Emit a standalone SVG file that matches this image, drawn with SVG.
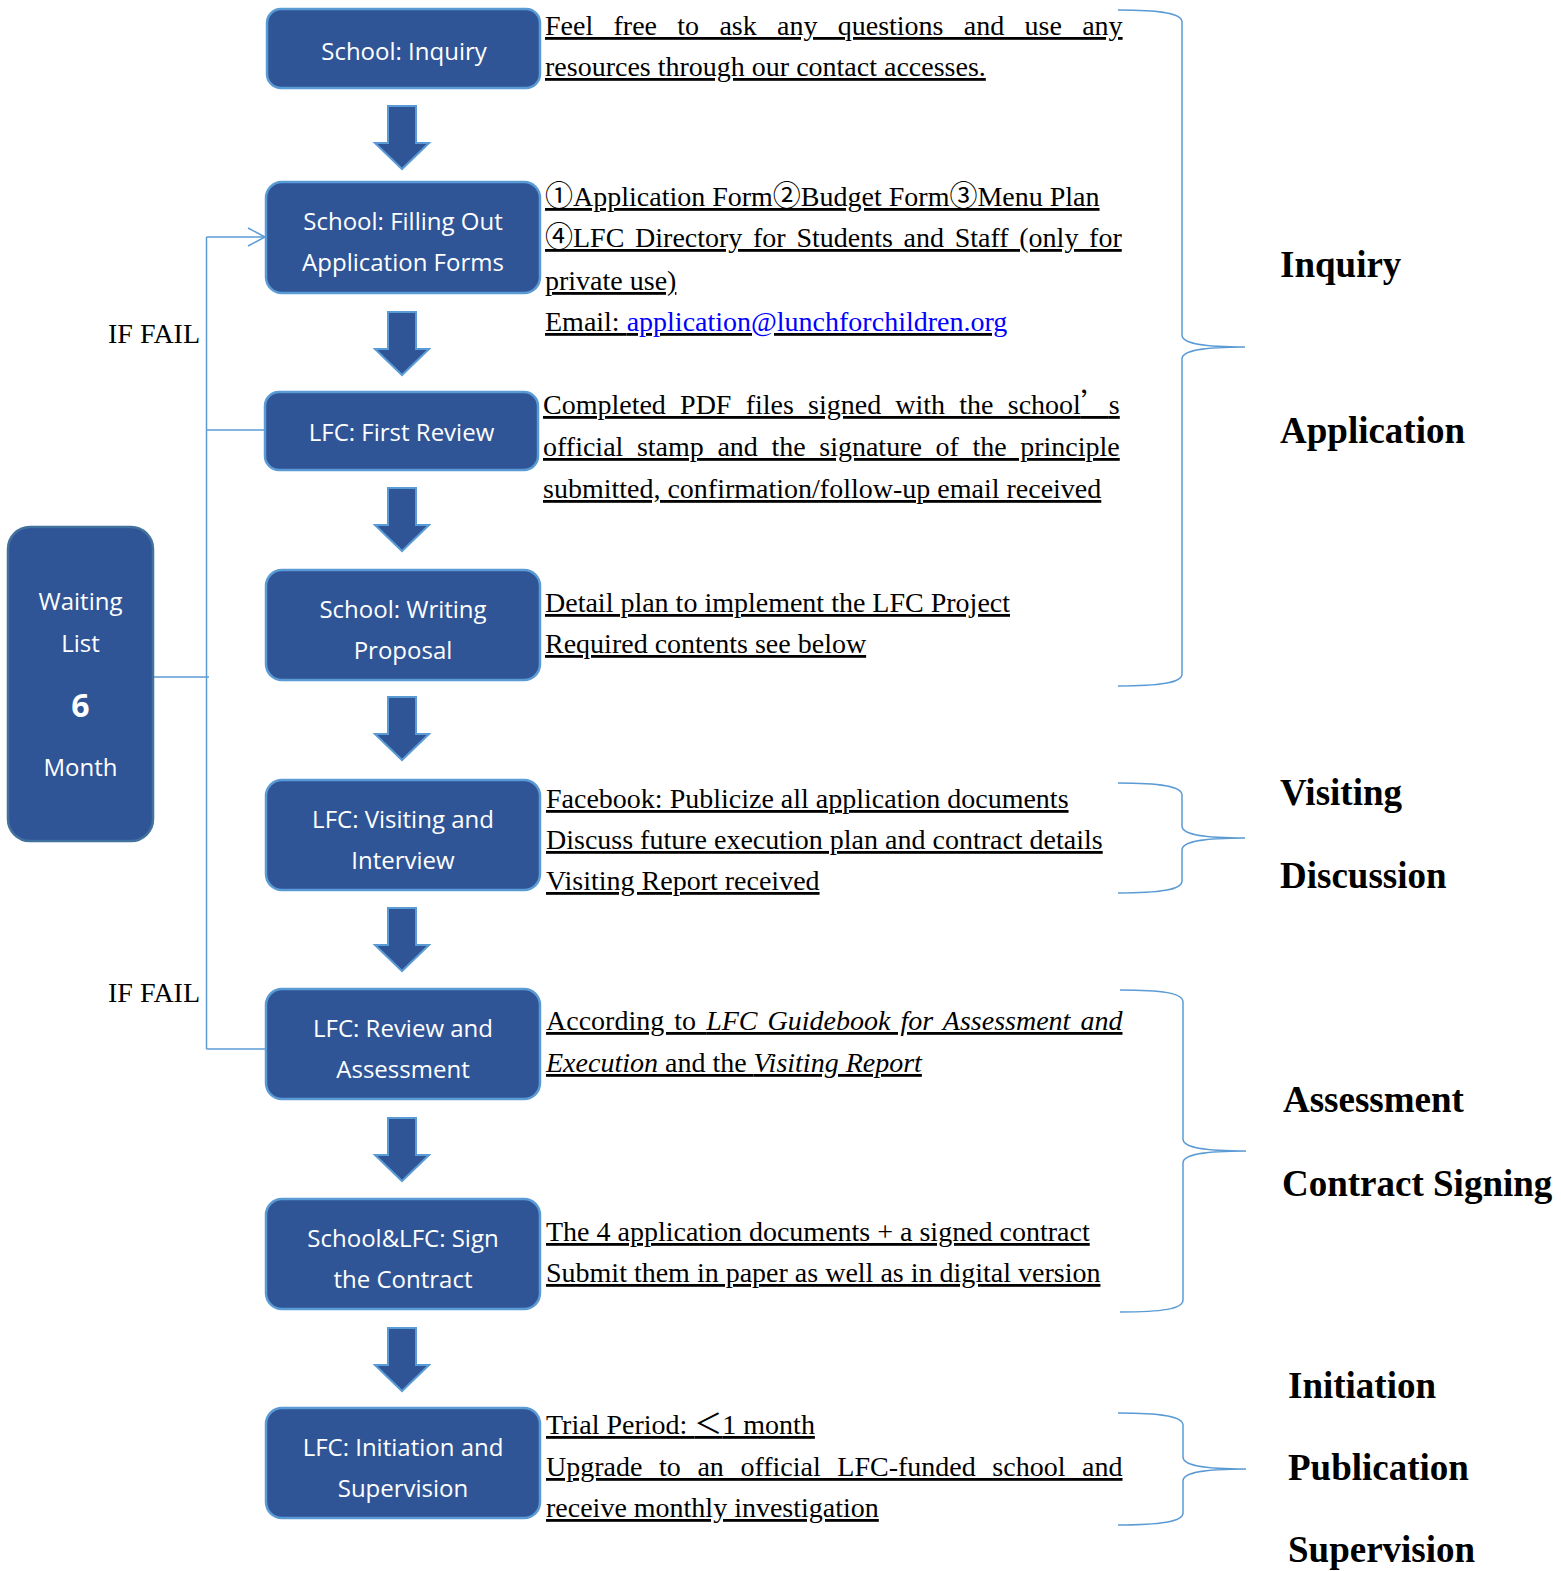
<svg xmlns="http://www.w3.org/2000/svg" width="1561" height="1571" viewBox="0 0 1561 1571">
<defs>
<style>
.box{fill:#2F5597;stroke:#5B9BD5;stroke-width:2.5}
.wl{fill:#2F5597;stroke:#41719C;stroke-width:2.5}
.bt{font-family:'Open Sans','Noto Sans',sans-serif;font-size:24px;fill:#fff;text-anchor:middle}
.big{font-size:32px;font-weight:bold}
.d{font-family:'Liberation Serif','Noto Sans CJK SC',serif;font-size:28px;fill:#000;text-decoration:underline;text-decoration-skip-ink:none}
.lab{font-family:'Liberation Serif',serif;font-weight:bold;font-size:37px;fill:#000}
.ff{font-family:'Liberation Serif',serif;font-size:28px;fill:#000}
.conn{fill:none;stroke:#5B9BD5;stroke-width:1.5}
.arr{fill:#2F5597;stroke:#5B9BD5;stroke-width:2}
.cjk{font-family:'Noto Sans CJK SC',sans-serif}
.it{font-style:italic}
</style>
<polygon id="downArrow" class="arr" points="388,0 416,0 416,37 429,37 402,63 375,37 388,37"/>
</defs>
<rect width="1561" height="1571" fill="#fff"/>

<g id="connectors">
<use href="#downArrow" y="106"/>
<use href="#downArrow" y="312"/>
<use href="#downArrow" y="488"/>
<use href="#downArrow" y="697"/>
<use href="#downArrow" y="908"/>
<use href="#downArrow" y="1118"/>
<use href="#downArrow" y="1328"/>
<path class="conn" d="M206.5,237 V1049"/>
<path class="conn" d="M206.5,237 H265"/>
<polyline class="conn" points="248,228 265,237 248,246"/>
<path class="conn" d="M206.5,430 H265"/>
<path class="conn" d="M153,677 H209"/>
<path class="conn" d="M206.5,1049 H266"/>
<text class="ff" x="108" y="343">IF FAIL</text>
<text class="ff" x="108" y="1002">IF FAIL</text>
</g>

<g id="n-inquiry">
<rect class="box" x="267" y="9" width="273" height="79" rx="14"/>
<text class="bt" x="404" y="60">School: Inquiry</text>
</g>
<g id="n-filling">
<rect class="box" x="266" y="182" width="274" height="111" rx="16"/>
<text class="bt" x="403" y="230">School: Filling Out</text>
<text class="bt" x="403" y="271">Application Forms</text>
</g>
<g id="n-first-review">
<rect class="box" x="265" y="392" width="273" height="78" rx="14"/>
<text class="bt" x="401.5" y="441">LFC: First Review</text>
</g>
<g id="n-proposal">
<rect class="box" x="266" y="570" width="274" height="110" rx="16"/>
<text class="bt" x="403" y="618">School: Writing</text>
<text class="bt" x="403" y="659">Proposal</text>
</g>
<g id="n-visiting">
<rect class="box" x="266" y="780" width="274" height="110" rx="16"/>
<text class="bt" x="403" y="828">LFC: Visiting and</text>
<text class="bt" x="403" y="869">Interview</text>
</g>
<g id="n-review">
<rect class="box" x="266" y="989" width="274" height="110" rx="16"/>
<text class="bt" x="403" y="1037">LFC: Review and</text>
<text class="bt" x="403" y="1078">Assessment</text>
</g>
<g id="n-contract">
<rect class="box" x="266" y="1199" width="274" height="110" rx="16"/>
<text class="bt" x="403" y="1247">School&amp;LFC: Sign</text>
<text class="bt" x="403" y="1288">the Contract</text>
</g>
<g id="n-initiation">
<rect class="box" x="266" y="1408" width="274" height="110" rx="16"/>
<text class="bt" x="403" y="1456">LFC: Initiation and</text>
<text class="bt" x="403" y="1497">Supervision</text>
</g>
<g id="n-waiting">
<rect class="wl" x="8" y="527" width="145" height="314" rx="22"/>
<text class="bt" x="80.5" y="610">Waiting</text>
<text class="bt" x="80.5" y="652">List</text>
<text class="bt big" x="80.5" y="717">6</text>
<text class="bt" x="80.5" y="776">Month</text>
</g>

<g id="notes">
<text class="d" x="545" y="35" word-spacing="13.3">Feel free to ask any questions and use any</text>
<text class="d" x="545" y="76">resources through our contact accesses.</text>

<text class="d" x="545" y="206">①Application Form②Budget Form③Menu Plan</text>
<text class="d" x="545" y="247" word-spacing="3.7">④LFC Directory for Students and Staff (only for</text>
<text class="d" x="545" y="290">private use)</text>
<text class="d" x="545" y="331">Email: <tspan fill="#0000FF">application@lunchforchildren.org</tspan></text>

<text class="d" x="543" y="414" word-spacing="7.2">Completed PDF files signed with the school<tspan class="cjk">’</tspan>s</text>
<text class="d" x="543" y="456" word-spacing="6.6">official stamp and the signature of the principle</text>
<text class="d" x="543" y="498">submitted, confirmation/follow-up email received</text>

<text class="d" x="545" y="612">Detail plan to implement the LFC Project</text>
<text class="d" x="545" y="653">Required contents see below</text>

<text class="d" x="546" y="808">Facebook: Publicize all application documents</text>
<text class="d" x="546" y="849">Discuss future execution plan and contract details</text>
<text class="d" x="546" y="890">Visiting Report received</text>

<text class="d" x="546" y="1030" word-spacing="3.1">According to <tspan class="it">LFC Guidebook for Assessment and</tspan></text>
<text class="d" x="546" y="1072"><tspan class="it">Execution</tspan> and the <tspan class="it">Visiting Report</tspan></text>

<text class="d" x="546" y="1241">The 4 application documents + a signed contract</text>
<text class="d" x="546" y="1282">Submit them in paper as well as in digital version</text>

<text class="d" x="546" y="1434">Trial Period: <tspan class="cjk">＜</tspan>1 month</text>
<text class="d" x="546" y="1476" word-spacing="9.6">Upgrade to an official LFC-funded school and</text>
<text class="d" x="546" y="1517">receive monthly investigation</text>
</g>

<g id="braces">
<path class="conn" d="M1118,10 C1160,10 1182,13 1182,22 L1182,335 C1182,343 1200,347 1245,347 C1200,347 1182,351 1182,359 L1182,674 C1182,683 1160,686 1118,686"/>
<path class="conn" d="M1118,783 C1160,783 1182,786 1182,795 L1182,826 C1182,834 1200,838 1245,838 C1200,838 1182,842 1182,850 L1182,881 C1182,890 1160,893 1118,893"/>
<path class="conn" d="M1120,990 C1162,990 1183,993 1183,1002 L1183,1139 C1183,1147 1201,1151 1246,1151 C1201,1151 1183,1155 1183,1163 L1183,1300 C1183,1309 1162,1312 1120,1312"/>
<path class="conn" d="M1118,1413 C1160,1413 1183,1416 1183,1425 L1183,1457 C1183,1465 1201,1469 1246,1469 C1201,1469 1183,1473 1183,1481 L1183,1513 C1183,1522 1160,1525 1118,1525"/>
</g>

<g id="labels">
<text class="lab" x="1280" y="277">Inquiry</text>
<text class="lab" x="1280" y="443">Application</text>
<text class="lab" x="1280" y="805">Visiting</text>
<text class="lab" x="1280" y="888">Discussion</text>
<text class="lab" x="1283" y="1112">Assessment</text>
<text class="lab" x="1282" y="1196">Contract Signing</text>
<text class="lab" x="1288" y="1398">Initiation</text>
<text class="lab" x="1288" y="1480">Publication</text>
<text class="lab" x="1288" y="1562">Supervision</text>
</g>
</svg>
